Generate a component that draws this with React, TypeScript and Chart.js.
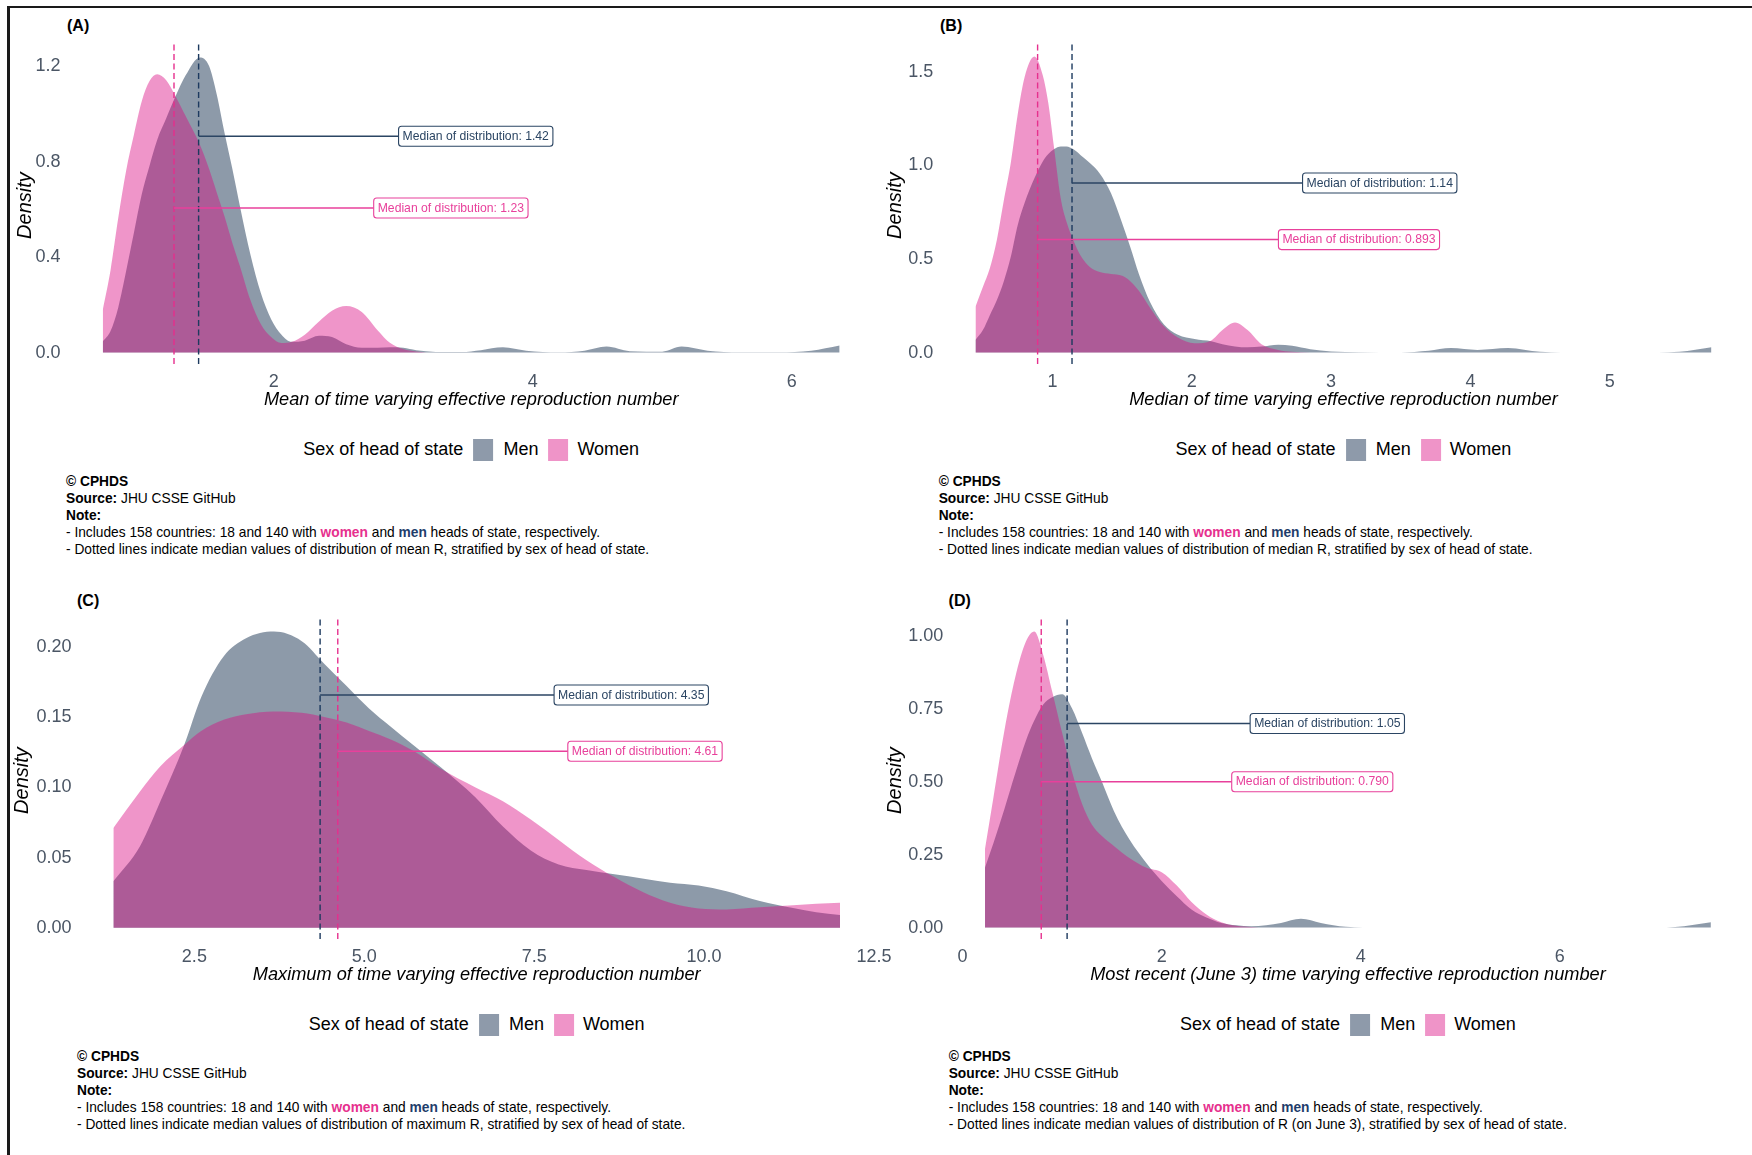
import React, { useEffect, useRef } from "react";
import { Chart, registerables } from "chart.js";

Chart.register(...registerables);

const FONT = "'Liberation Sans', Arial, Helvetica, sans-serif";

// ---------- Panel A: mean R ----------
const aX = [0.68, 0.74, 0.8, 0.86, 0.92, 0.98, 1.04, 1.1, 1.17, 1.24, 1.32, 1.43, 1.5, 1.56, 1.62, 1.68, 1.74, 1.82, 1.9, 1.98, 2.06, 2.14, 2.24, 2.35, 2.45, 2.56, 2.68, 2.8, 2.9, 3.0, 3.1, 3.25, 3.45, 3.6, 3.77, 3.95, 4.2, 4.4, 4.57, 4.75, 5.0, 5.15, 5.35, 5.6, 5.9, 6.15, 6.37];
const aMen = [0.046, 0.09, 0.19, 0.34, 0.5, 0.66, 0.78, 0.89, 0.98, 1.07, 1.16, 1.235, 1.2, 1.08, 0.92, 0.77, 0.61, 0.41, 0.25, 0.14, 0.075, 0.045, 0.05, 0.07, 0.065, 0.035, 0.02, 0.02, 0.022, 0.02, 0.01, 0.003, 0.002, 0.01, 0.022, 0.008, 0.001, 0.008, 0.025, 0.006, 0.004, 0.025, 0.008, 0.001, 0.001, 0.008, 0.03];
const aWomen = [0.178, 0.345, 0.565, 0.76, 0.91, 1.05, 1.135, 1.165, 1.14, 1.075, 0.99, 0.87, 0.77, 0.67, 0.57, 0.46, 0.36, 0.22, 0.12, 0.065, 0.04, 0.045, 0.075, 0.13, 0.175, 0.195, 0.17, 0.095, 0.04, 0.015, 0.005, 0, 0, 0, 0, 0, 0, 0, 0, 0, 0, 0, 0, 0, 0, 0, 0];
const aXTicks = [2, 4, 6];
const aXTickLabels = ["2", "4", "6"];
const aYTicks = [0, 0.4, 0.8, 1.2];
const aYTickLabels = ["0.0", "0.4", "0.8", "1.2"];
const aMedians = [1.42, 1.23];
const aMedianText = ["1.42", "1.23"];
const aLabelX = [3.56, 3.368];
const aLabelY = [0.905, 0.605];

// ---------- Panel B: median R ----------
const bX = [0.447, 0.5, 0.55, 0.6, 0.65, 0.7, 0.75, 0.8, 0.87, 0.93, 0.97, 1.01, 1.06, 1.1, 1.15, 1.2, 1.27, 1.34, 1.42, 1.5, 1.56, 1.62, 1.7, 1.8, 1.9, 2.02, 2.14, 2.22, 2.31, 2.4, 2.5, 2.62, 2.72, 2.85, 3.0, 3.2, 3.5, 3.7, 3.86, 4.05, 4.27, 4.5, 4.8, 5.2, 5.5, 5.73];
const bMen = [0.067, 0.12, 0.2, 0.28, 0.38, 0.51, 0.68, 0.8, 0.93, 1.02, 1.06, 1.085, 1.1, 1.1, 1.085, 1.055, 1.01, 0.955, 0.85, 0.69, 0.56, 0.42, 0.27, 0.15, 0.095, 0.072, 0.06, 0.045, 0.033, 0.028, 0.032, 0.042, 0.036, 0.018, 0.006, 0.002, 0.001, 0.01, 0.024, 0.014, 0.024, 0.004, 0, 0, 0.004, 0.028];
const bWomen = [0.245, 0.35, 0.45, 0.6, 0.81, 1.01, 1.27, 1.47, 1.58, 1.48, 1.33, 1.1, 0.82, 0.7, 0.6, 0.52, 0.455, 0.43, 0.42, 0.41, 0.38, 0.33, 0.24, 0.14, 0.08, 0.05, 0.065, 0.12, 0.16, 0.12, 0.045, 0.014, 0.004, 0.001, 0, 0, 0, 0, 0, 0, 0, 0, 0, 0, 0, 0];
const bXTicks = [1, 2, 3, 4, 5];
const bXTickLabels = ["1", "2", "3", "4", "5"];
const bYTicks = [0, 0.5, 1, 1.5];
const bYTickLabels = ["0.0", "0.5", "1.0", "1.5"];
const bMedians = [1.14, 0.893];
const bMedianText = ["1.14", "0.893"];
const bLabelX = [3.349, 3.2];
const bLabelY = [0.905, 0.603];

// ---------- Panel C: maximum R ----------
const cX = [1.308, 1.7, 2.0, 2.35, 2.6, 2.93, 3.26, 3.67, 4.08, 4.41, 4.74, 5.07, 5.39, 5.72, 6.13, 6.63, 7.04, 7.45, 7.86, 8.27, 8.68, 9.09, 9.5, 9.92, 10.33, 10.82, 11.31, 11.65, 12.0];
const cMen = [0.033, 0.058, 0.09, 0.13, 0.164, 0.193, 0.206, 0.2108, 0.204, 0.188, 0.172, 0.156, 0.143, 0.13, 0.114, 0.093, 0.072, 0.055, 0.045, 0.041, 0.038, 0.035, 0.032, 0.03, 0.026, 0.019, 0.014, 0.011, 0.009];
const cWomen = [0.071, 0.097, 0.115, 0.13, 0.14, 0.148, 0.152, 0.154, 0.153, 0.15, 0.146, 0.14, 0.134, 0.126, 0.113, 0.1, 0.09, 0.077, 0.0625, 0.048, 0.036, 0.0256, 0.0177, 0.0137, 0.013, 0.0145, 0.016, 0.017, 0.0177];
const cXTicks = [2.5, 5, 7.5, 10, 12.5];
const cXTickLabels = ["2.5", "5.0", "7.5", "10.0", "12.5"];
const cYTicks = [0, 0.05, 0.1, 0.15, 0.2];
const cYTickLabels = ["0.00", "0.05", "0.10", "0.15", "0.20"];
const cMedians = [4.35, 4.61];
const cMedianText = ["4.35", "4.61"];
const cLabelX = [8.928, 9.13];
const cLabelY = [0.1657, 0.1256];

// ---------- Panel D: most recent R (June 3) ----------
const dX = [0.225, 0.31, 0.42, 0.53, 0.635, 0.72, 0.81, 0.9, 1.0, 1.1, 1.2, 1.3, 1.4, 1.52, 1.68, 1.85, 2.0, 2.15, 2.3, 2.45, 2.6, 2.75, 2.9, 3.05, 3.2, 3.4, 3.6, 3.85, 4.2, 5.0, 6.0, 6.9, 7.25, 7.52];
const dMen = [0.206, 0.29, 0.407, 0.53, 0.64, 0.71, 0.765, 0.79, 0.8, 0.751, 0.668, 0.58, 0.5, 0.4, 0.3, 0.22, 0.16, 0.108, 0.062, 0.035, 0.016, 0.008, 0.005, 0.008, 0.016, 0.03, 0.016, 0.003, 0, 0, 0, 0, 0.005, 0.018];
const dWomen = [0.27, 0.447, 0.676, 0.86, 0.98, 1.015, 0.935, 0.81, 0.668, 0.534, 0.425, 0.353, 0.314, 0.28, 0.238, 0.205, 0.19, 0.145, 0.088, 0.045, 0.018, 0.006, 0.002, 0, 0, 0, 0, 0, 0, 0, 0, 0, 0, 0];
const dXTicks = [0, 2, 4, 6];
const dXTickLabels = ["0", "2", "4", "6"];
const dYTicks = [0, 0.25, 0.5, 0.75, 1];
const dYTickLabels = ["0.00", "0.25", "0.50", "0.75", "1.00"];
const dMedians = [1.05, 0.79];
const dMedianText = ["1.05", "0.790"];
const dLabelX = [3.665, 3.514];
const dLabelY = [0.7, 0.5];

// ---------- styles ----------
const MEN_FILL = "rgba(27,53,83,0.5)";
const WOMEN_FILL = "rgba(218,10,130,0.43)";
const MEN_KEY = "#8e9aaa";
const WOMEN_KEY = "#ef94c8";
const TICK_COLOR = "#4b5665";
const GROUPS = [
  { dash: "#1d3a5f", line: "#2b4563", text: "#2b4563" },
  { dash: "#e6308e", line: "#e8409b", text: "#e8409b" },
];
const NAVY = "#1f3d6b";
const PINK = "#e6308e";

const ROW_TOP = [44.4, 619.4];
const PANEL_H = 322.3;
const COL_CANVAS_LEFT = [10, 882];

const PANELS = [
  {
    key: "A", col: 0, row: 0, pl: 66, pr: 876.4, xMin: 0.396, xMax: 6.654, yMin: -0.059, yMax: 1.2895, yTitleX: 25, letterX: 67,
    x: aX, men: aMen, women: aWomen, xTicks: aXTicks, xTickLabels: aXTickLabels, yTicks: aYTicks, yTickLabels: aYTickLabels,
    medians: aMedians, medianText: aMedianText, labelX: aLabelX, labelY: aLabelY,
    xTitle: "Mean of time varying effective reproduction number", stat: "mean R",
  },
  {
    key: "B", col: 1, row: 0, pl: 938.7, pr: 1748.2, xMin: 0.183, xMax: 5.994, yMin: -0.0752, yMax: 1.6446, yTitleX: 895.6, letterX: 940,
    x: bX, men: bMen, women: bWomen, xTicks: bXTicks, xTickLabels: bXTickLabels, yTicks: bYTicks, yTickLabels: bYTickLabels,
    medians: bMedians, medianText: bMedianText, labelX: bLabelX, labelY: bLabelY,
    xTitle: "Median of time varying effective reproduction number", stat: "median R",
  },
  {
    key: "C", col: 0, row: 1, pl: 77, pr: 876.4, xMin: 0.773, xMax: 12.535, yMin: -0.01, yMax: 0.2195, yTitleX: 22.3, letterX: 77,
    x: cX, men: cMen, women: cWomen, xTicks: cXTicks, xTickLabels: cXTickLabels, yTicks: cYTicks, yTickLabels: cYTickLabels,
    medians: cMedians, medianText: cMedianText, labelX: cLabelX, labelY: cLabelY,
    xTitle: "Maximum of time varying effective reproduction number", stat: "maximum R",
  },
  {
    key: "D", col: 1, row: 1, pl: 948.7, pr: 1747.2, xMin: -0.14, xMax: 7.885, yMin: -0.0484, yMax: 1.0569, yTitleX: 895.5, letterX: 948.6,
    x: dX, men: dMen, women: dWomen, xTicks: dXTicks, xTickLabels: dXTickLabels, yTicks: dYTicks, yTickLabels: dYTickLabels,
    medians: dMedians, medianText: dMedianText, labelX: dLabelX, labelY: dLabelY,
    xTitle: "Most recent (June 3) time varying effective reproduction number", stat: "R (on June 3)",
  },
];

function makeAnnot(p: any) {
  return {
    id: "medianAnnot" + p.key,
    afterDatasetsDraw(chart: any) {
      const { ctx, chartArea, scales } = chart;
      const xs = scales.x;
      const ys = scales.y;
      ctx.save();
      GROUPS.forEach((g, i) => {
        const px = xs.getPixelForValue(p.medians[i]);
        ctx.setLineDash([6, 3.5]);
        ctx.lineWidth = 1.4;
        ctx.strokeStyle = g.dash;
        ctx.beginPath();
        ctx.moveTo(px, chartArea.top);
        ctx.lineTo(px, chartArea.bottom);
        ctx.stroke();
      });
      ctx.setLineDash([]);
      ctx.font = `12.2px ${FONT}`;
      GROUPS.forEach((g, i) => {
        const px = xs.getPixelForValue(p.medians[i]);
        const py = ys.getPixelForValue(p.labelY[i]);
        const cx = xs.getPixelForValue(p.labelX[i]);
        const text = `Median of distribution: ${p.medianText[i]}`;
        const tw = ctx.measureText(text).width;
        const bw = tw + 8;
        const bh = 20;
        const bx = cx - bw / 2;
        const by = py - bh / 2;
        ctx.strokeStyle = g.line;
        ctx.lineWidth = 1.5;
        ctx.beginPath();
        ctx.moveTo(px, py);
        ctx.lineTo(bx, py);
        ctx.stroke();
        ctx.fillStyle = "#ffffff";
        ctx.lineWidth = 1.1;
        ctx.beginPath();
        if ((ctx as any).roundRect) (ctx as any).roundRect(bx, by, bw, bh, 3);
        else ctx.rect(bx, by, bw, bh);
        ctx.fill();
        ctx.stroke();
        ctx.fillStyle = g.text;
        ctx.textAlign = "center";
        ctx.textBaseline = "middle";
        ctx.fillText(text, cx, py + 0.2);
      });
      ctx.restore();
    },
  };
}

function Panel({ p }: { p: any }) {
  const ref = useRef<HTMLCanvasElement>(null);
  const cl = COL_CANVAS_LEFT[p.col];
  const pt = ROW_TOP[p.row];
  const pb = pt + PANEL_H;
  const ct = Math.floor(pt - 20);
  const padTop = pt - ct;
  const w = p.col === 0 ? Math.round(p.pr + 24 - cl) : 1752 - cl;
  const padRight = cl + w - p.pr;
  const yW = p.pl - cl;
  const h = Math.round(pb + 60 - ct);
  const xH = ct + h - pb;
  const xTitlePadBottom = ct + h - (pb + 33.5) - 10.9;
  const yTitlePadTop = p.yTitleX - cl - 12;

  useEffect(() => {
    const canvas = ref.current!;
    const chart = new Chart(canvas, {
      type: "line",
      data: {
        datasets: [
          {
            label: "Men",
            data: p.x.map((v: number, i: number) => ({ x: v, y: p.men[i] })),
            fill: "origin",
            backgroundColor: MEN_FILL,
            borderColor: "transparent",
            borderWidth: 0,
            pointRadius: 0,
            cubicInterpolationMode: "monotone",
            order: 2,
          },
          {
            label: "Women",
            data: p.x.map((v: number, i: number) => ({ x: v, y: p.women[i] })),
            fill: "origin",
            backgroundColor: WOMEN_FILL,
            borderColor: "transparent",
            borderWidth: 0,
            pointRadius: 0,
            cubicInterpolationMode: "monotone",
            order: 1,
          },
        ],
      },
      options: {
        responsive: false,
        animation: false,
        layout: { padding: { top: padTop, right: padRight, left: 0, bottom: 0 } },
        plugins: { legend: { display: false }, tooltip: { enabled: false } },
        scales: {
          x: {
            type: "linear",
            min: p.xMin,
            max: p.xMax,
            grid: { display: false, drawTicks: false },
            border: { display: false },
            afterBuildTicks: (s: any) => {
              s.ticks = p.xTicks.map((v: number) => ({ value: v }));
            },
            afterFit: (s: any) => {
              s.height = xH;
              s.paddingLeft = 0;
              s.paddingRight = 0;
            },
            ticks: {
              callback: (_v: any, i: number) => p.xTickLabels[i],
              color: TICK_COLOR,
              font: { family: FONT, size: 18 },
              padding: 4.8,
              maxRotation: 0,
              autoSkip: false,
            },
            title: {
              display: true,
              text: p.xTitle,
              color: "#000",
              font: { family: FONT, size: 18.2, style: "italic", lineHeight: 1.2 },
              padding: { top: 0, bottom: xTitlePadBottom },
            },
          },
          y: {
            type: "linear",
            min: p.yMin,
            max: p.yMax,
            grid: { display: false, drawTicks: false },
            border: { display: false },
            afterBuildTicks: (s: any) => {
              s.ticks = p.yTicks.map((v: number) => ({ value: v }));
            },
            afterFit: (s: any) => {
              s.width = yW;
              s.paddingTop = 0;
              s.paddingBottom = 0;
            },
            ticks: {
              callback: (_v: any, i: number) => p.yTickLabels[i],
              color: TICK_COLOR,
              font: { family: FONT, size: 18 },
              padding: 5.5,
              labelOffset: 0.3,
              autoSkip: false,
            },
            title: {
              display: true,
              text: "Density",
              color: "#000",
              font: { family: FONT, size: 20, style: "italic", lineHeight: 1.2 },
              padding: { top: yTitlePadTop, bottom: 0 },
            },
          },
        },
      } as any,
      plugins: [makeAnnot(p)],
    });
    return () => chart.destroy();
  }, []);

  return (
    <canvas
      ref={ref}
      width={w}
      height={h}
      style={{ position: "absolute", left: cl, top: ct, width: w, height: h }}
    />
  );
}

function Legend({ p }: { p: any }) {
  const cx = (p.pl + p.pr) / 2;
  const cy = p.row === 0 ? 449.5 : 1024.5;
  return (
    <div
      style={{
        position: "absolute",
        left: cx,
        top: cy - 11,
        height: 22,
        transform: "translateX(-50%)",
        display: "flex",
        alignItems: "center",
        whiteSpace: "nowrap",
        font: `18px ${FONT}`,
        color: "#000",
      }}
    >
      <span style={{ marginRight: 10 }}>Sex of head of state</span>
      <span style={{ display: "inline-block", width: 20, height: 22, background: MEN_KEY, marginRight: 10 }} />
      <span style={{ marginRight: 10 }}>Men</span>
      <span style={{ display: "inline-block", width: 20, height: 22, background: WOMEN_KEY, marginRight: 9 }} />
      <span>Women</span>
    </div>
  );
}

function Caption({ p }: { p: any }) {
  const top = p.row === 0 ? 472.9 : 1047.9;
  return (
    <div
      style={{
        position: "absolute",
        left: p.pl,
        top,
        font: `13.75px ${FONT}`,
        lineHeight: "17.1px",
        color: "#000",
        whiteSpace: "nowrap",
      }}
    >
      <div><b>© CPHDS</b></div>
      <div><b>Source:</b> JHU CSSE GitHub</div>
      <div><b>Note:</b></div>
      <div>
        - Includes 158 countries: 18 and 140 with <b style={{ color: PINK }}>women</b> and{" "}
        <b style={{ color: NAVY }}>men</b> heads of state, respectively.
      </div>
      <div>- Dotted lines indicate median values of distribution of {p.stat}, stratified by sex of head of state.</div>
    </div>
  );
}

export default function App() {
  return (
    <div
      style={{
        position: "absolute",
        left: 0,
        top: 0,
        width: 1752,
        height: 1155,
        background: "#ffffff",
        overflow: "hidden",
        fontFamily: FONT,
      }}
    >
      {PANELS.map((p) => (
        <React.Fragment key={p.key}>
          <div
            style={{
              position: "absolute",
              left: p.letterX,
              top: p.row === 0 ? 17.2 : 592.2,
              font: `bold 16px ${FONT}`,
              lineHeight: "18px",
              color: "#000",
            }}
          >
            ({p.key})
          </div>
          <Panel p={p} />
          <Legend p={p} />
          <Caption p={p} />
        </React.Fragment>
      ))}
      <div style={{ position: "absolute", left: 7.3, top: 5.7, width: 1745, height: 2.5, background: "#1a1a1a" }} />
      <div style={{ position: "absolute", left: 7.3, top: 5.7, width: 2.5, height: 1150, background: "#1a1a1a" }} />
    </div>
  );
}
